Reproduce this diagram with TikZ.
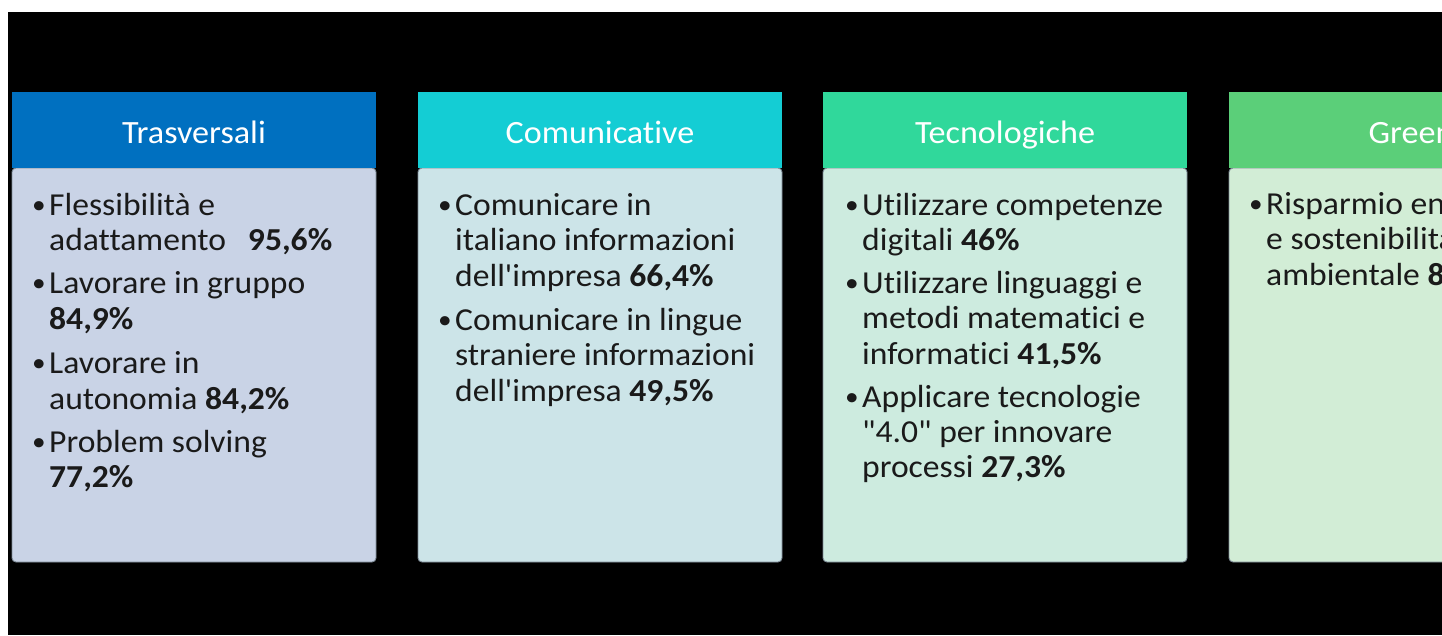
\documentclass[tikz,border=0pt]{standalone}
\usepackage{fontspec}
\setmainfont{Carlito}[Ligatures={TeXOff,NoCommon},FakeStretch=1.05]
\definecolor{hA}{HTML}{0070C0}
\definecolor{hB}{HTML}{14CDD4}
\definecolor{hC}{HTML}{30D89B}
\definecolor{hD}{HTML}{5BCF79}
\definecolor{bA}{HTML}{C9D3E6}
\definecolor{bB}{HTML}{CCE4E8}
\definecolor{bC}{HTML}{CDEBDF}
\definecolor{bD}{HTML}{D2EDD6}
\definecolor{bdr}{HTML}{7D8A96}
\definecolor{txt}{HTML}{1A1A1A}
\tikzset{
  bodybox/.style={draw=bdr, line width=0.9pt, rounded corners=4pt},
  hdrtext/.style={anchor=base, text=white, inner sep=0pt, font=\fontsize{32.5}{36}\selectfont},
  ln/.style={anchor=base west, text=txt, inner sep=0pt, font=\fontsize{32}{36}\selectfont},
  blt/.style={anchor=base west, text=txt, inner sep=0pt, font=\fontsize{26}{30}\selectfont}
}
\begin{document}
\begin{tikzpicture}[x=1pt,y=-1pt]
\useasboundingbox (0,0) rectangle (1442,635);
\fill[white] (0,0) rectangle (1442,635);
\fill[black] (8,12) rectangle (1442,635);
\begin{scope}
\clip (0,0) rectangle (1442,635);
% column boxes
\foreach \x/\h/\b in {12/hA/bA, 418/hB/bB, 823/hC/bC, 1229/hD/bD}{
  \fill[\b, bodybox] (\x,168) rectangle ++(364,394);
  \fill[\h] (\x,92) rectangle ++(364,76);
}
% headers
\node[hdrtext] (h1) at (194,143) {Trasversali};
\node[hdrtext] (h2) at (600,143) {Comunicative};
\node[hdrtext] (h3) at (1005,143) {Tecnologiche};
\node[hdrtext] (h4) at (1411,143) {Green};
% column 1
\node[blt] (c1b1) at (32,213) {•};
\node[ln] (c1l1) at (49,215) {Flessibilità e};
\node[ln] (c1l2) at (49,250) {adattamento\hspace{22pt}\textbf{95,6\%}};
\node[blt] (c1b2) at (32,291) {•};
\node[ln] (c1l3) at (49,293) {Lavorare in gruppo};
\node[ln] (c1l4) at (49,329) {\textbf{84,9\%}};
\node[blt] (c1b3) at (32,371) {•};
\node[ln] (c1l5) at (49,373) {Lavorare in};
\node[ln] (c1l6) at (49,409) {autonomia \textbf{84,2\%}};
\node[blt] (c1b4) at (32,450) {•};
\node[ln] (c1l7) at (49,452) {Problem solving};
\node[ln] (c1l8) at (49,487) {\textbf{77,2\%}};
% column 2
\node[blt] (c2b1) at (438,213) {•};
\node[ln] (c2l1) at (455,215) {Comunicare in};
\node[ln] (c2l2) at (455,250.5) {italiano informazioni};
\node[ln] (c2l3) at (455,286) {dell'impresa \textbf{66,4\%}};
\node[blt] (c2b2) at (438,328) {•};
\node[ln] (c2l4) at (455,330) {Comunicare in lingue};
\node[ln] (c2l5) at (455,365.5) {straniere informazioni};
\node[ln] (c2l6) at (455,401) {dell'impresa \textbf{49,5\%}};
% column 3
\node[blt] (c3b1) at (845,213) {•};
\node[ln] (c3l1) at (862,215) {Utilizzare competenze};
\node[ln] (c3l2) at (862,250) {digitali \textbf{46\%}};
\node[blt] (c3b2) at (845,291) {•};
\node[ln] (c3l3) at (862,293) {Utilizzare linguaggi e};
\node[ln] (c3l4) at (862,328.5) {metodi matematici e};
\node[ln] (c3l5) at (862,364) {informatici \textbf{41,5\%}};
\node[blt] (c3b3) at (845,405) {•};
\node[ln] (c3l6) at (862,407) {Applicare tecnologie};
\node[ln] (c3l7) at (862,442) {"4.0" per innovare};
\node[ln] (c3l8) at (862,477) {processi \textbf{27,3\%}};
% column 4
\node[blt] (c4b1) at (1249,212) {•};
\node[ln] (c4l1) at (1266,214) {Risparmio energetico};
\node[ln] (c4l2) at (1266,249.5) {e sostenibilità};
\node[ln] (c4l3) at (1266,285) {ambientale \textbf{8}};
\end{scope}
\end{tikzpicture}
\end{document}
